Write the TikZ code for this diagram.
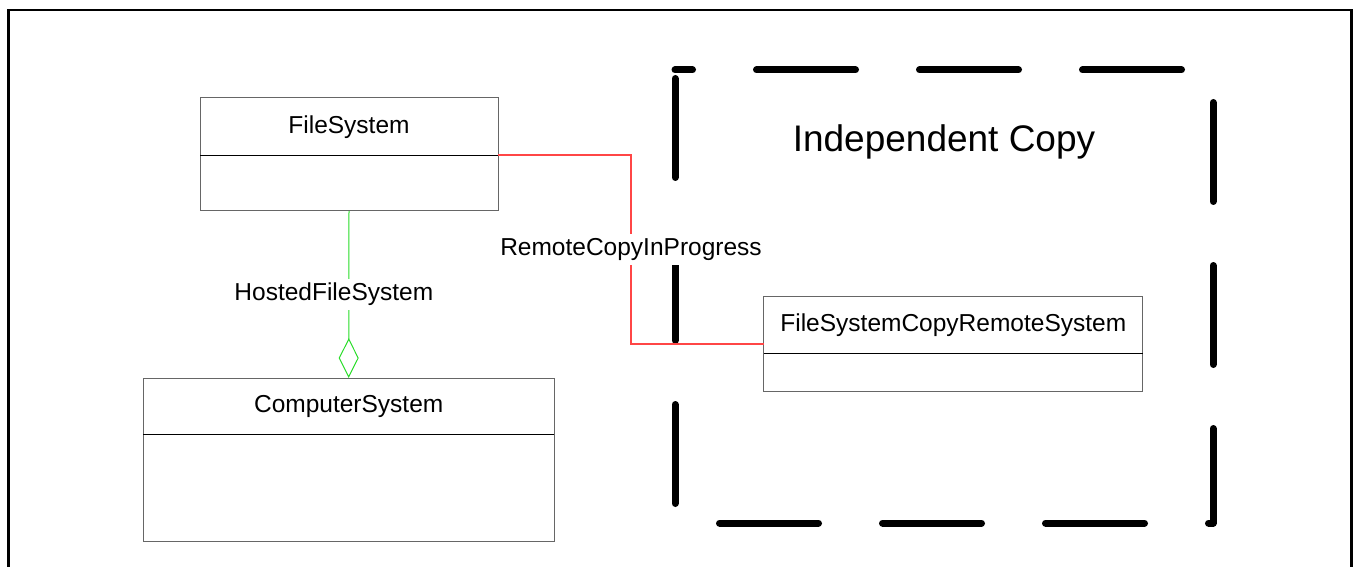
\documentclass[tikz,border=0pt]{standalone}
\usepackage{fontspec}
\setmainfont{Liberation Sans}
\usetikzlibrary{arrows.meta}
\definecolor{aggrgreen}{RGB}{40,220,40}
\definecolor{remotered}{RGB}{255,70,70}
\newcommand\umlfont{\fontsize{24.5}{29}\selectfont}

\begin{document}
\begin{tikzpicture}[x=1pt,y=-1pt,
   classbox/.style={draw=black!60, line width=1pt, inner sep=0pt, outer sep=0pt, font=\umlfont},
   assoc/.style={fill=white, inner sep=4.5pt, font=\umlfont},
   aggreg/.style={draw=aggrgreen, line width=1pt, -{Diamond[open, length=40pt, width=20pt]}},
   remote/.style={draw=remotered, line width=1.2pt},
   indep/.style={line width=7pt, line cap=round, line join=round,
                 dash pattern=on 99pt off 64pt, dash phase=81.5pt}]
   \useasboundingbox (0,0) rectangle (1353,567);
   \draw[line width=2.5pt] (8.7,567) -- (8.7,10.2) -- (1351.6,10.2) -- (1351.6,567);
   \draw[indep] (675,70) -- (1213,70) -- (1213,523) -- (675,523) -- cycle;
   \node[font=\fontsize{37}{44}\selectfont, anchor=base, inner sep=0pt] (indeptitle) at (944,151.7) {Independent Copy};

   \node[classbox, minimum width=298pt, minimum height=58pt] (fs) at (349,127) {FileSystem};
   \node[classbox, minimum width=298pt, minimum height=55pt, anchor=north] (fsbody) at (fs.south) {};
   \draw[line width=1pt] (fs.south west) -- (fs.south east);

   \node[classbox, minimum width=411pt, minimum height=56pt] (cs) at (348.7,406) {ComputerSystem};
   \node[classbox, minimum width=411pt, minimum height=107pt, anchor=north] (csbody) at (cs.south) {};
   \draw[line width=1pt] (cs.south west) -- (cs.south east);

   \node[classbox, minimum width=378.7pt, minimum height=56.6pt] (fscrs) at (953.3,325) {FileSystemCopyRemoteSystem};
   \node[classbox, minimum width=378.7pt, minimum height=37.7pt, anchor=north] (fscrsbody) at (fscrs.south) {};
   \draw[line width=1pt] (fscrs.south west) -- (fscrs.south east);

   \draw[aggreg] (fsbody.south) -- (cs.north) node[assoc, midway, xshift=-15pt] (hosted) {HostedFileSystem};
   \draw[remote] ([yshift=1pt]fs.south east) -- ++(133,0) |- ([yshift=-19pt]fscrs.west)
      node[assoc, pos=0.25] (remotecopy) {RemoteCopyInProgress};
\end{tikzpicture}
\end{document}
